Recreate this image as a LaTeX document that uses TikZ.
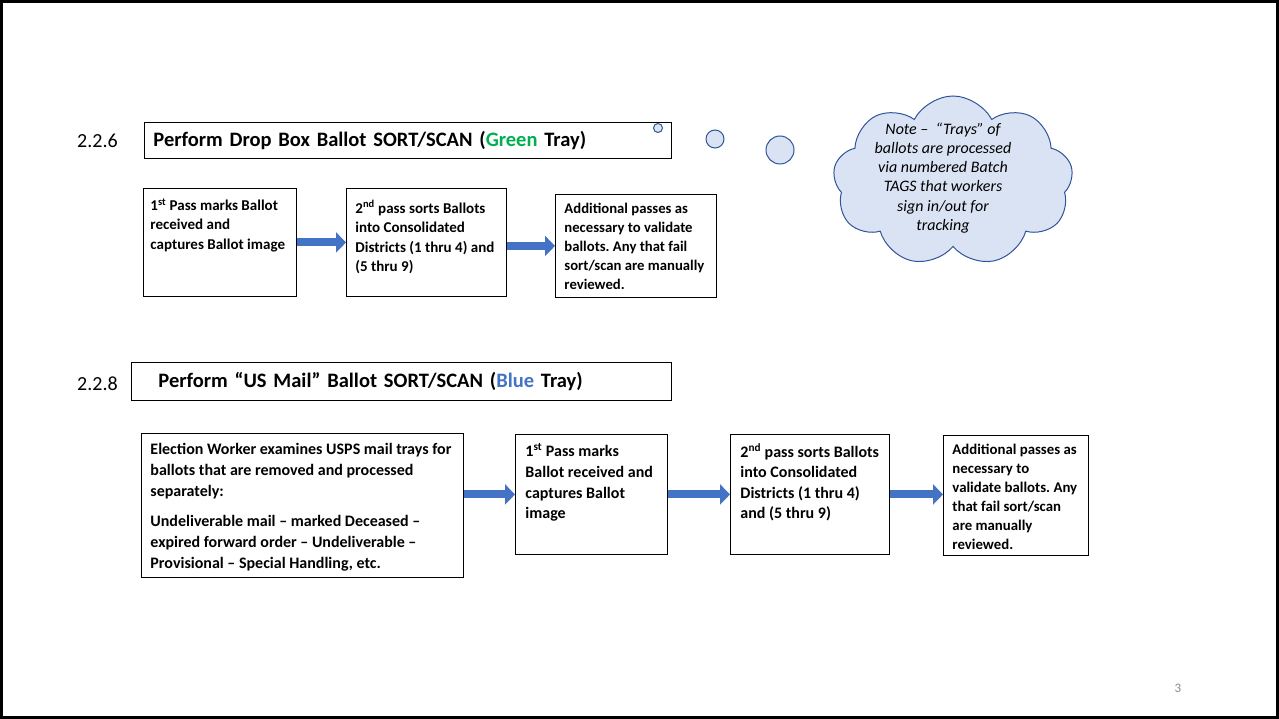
\documentclass[tikz,border=0pt]{standalone}
\usepackage{fontspec}
\setmainfont{Carlito}
\usepackage{tikz}
\usetikzlibrary{shapes.symbols,arrows.meta}
\definecolor{trayblue}{HTML}{4472C4}
\definecolor{traygreen}{HTML}{00B050}
\definecolor{cloudfill}{HTML}{DAE3F3}
\definecolor{cloudline}{HTML}{2F5597}
\definecolor{pagegray}{HTML}{898989}
\frenchspacing

\begin{document}
\begin{tikzpicture}[x=1pt,y=-1pt,
    stepbox/.style={draw, line width=0.9pt, anchor=north west, inner xsep=0pt, font=\bfseries\fontsize{15}{19.5}\selectfont},
    titlebox/.style={draw, line width=0.9pt, anchor=north west, align=left, font=\bfseries\fontsize{20.5}{24}\selectfont},
    secnum/.style={anchor=west, inner sep=0pt, font=\fontsize{20}{24}\selectfont},
    bubble/.style={circle, draw=cloudline, fill=cloudfill, line width=1pt, inner sep=0pt},
    flow/.style={line width=8pt, trayblue, -{Triangle[length=10pt,width=20pt]}}]
    \useasboundingbox (0,0) rectangle (1279,719);
    \draw[line width=3pt] (1.5,1.5) rectangle (1277.5,717.5);

    \node[secnum] (num226) at (77,141) {2.2.6};
    \node[titlebox, minimum width=527pt, minimum height=36pt, text width=509pt, inner xsep=9pt] (dropbox) at (144,122) {Perform Drop Box Ballot SORT/SCAN (\textcolor{traygreen}{Green} Tray)};
    \node[stepbox, inner ysep=10pt] (pass1) at (143,188) {\parbox[t][88pt][t]{153pt}{\raggedright\leftskip=7pt 1\textsuperscript{st} Pass marks Ballot\\ received and\\ captures Ballot image}};
    \node[stepbox, inner ysep=12pt] (pass2) at (346,188) {\parbox[t][84pt][t]{160pt}{\raggedright\leftskip=9pt 2\textsuperscript{nd} pass sorts Ballots\\ into Consolidated\\ Districts (1 thru 4) and\\ (5 thru 9)}};
    \node[stepbox, inner ysep=9pt, font=\bfseries\fontsize{14.7}{19}\selectfont] (more) at (555,194) {\parbox[t][85pt][t]{161pt}{\raggedright\leftskip=9pt Additional passes as\\ necessary to validate\\ ballots. Any that fail\\ sort/scan are manually\\ reviewed.}};
    \draw[flow] (pass1.east) -- (pass1.east -| pass2.west);
    \draw[flow] (pass2.east |- more.west) -- (more.west);

    \node[bubble, minimum size=9pt] (puff1) at (658,128) {};
    \node[bubble, minimum size=18pt] (puff2) at (715,139) {};
    \node[bubble, minimum size=28pt] (puff3) at (780,150) {};
    \node[cloud, cloud puffs=9, cloud puff arc=125, aspect=1.4, draw=cloudline, fill=cloudfill, line width=1pt, minimum width=240pt, minimum height=170pt, inner sep=0pt] (note) at (953,181) {};
    \node[align=center, font=\itshape\fontsize{16}{19.2}\selectfont] (notetext) at (943,178) {Note –\ \ “Trays” of\\ ballots are processed\\ via numbered Batch\\ TAGS that workers\\ sign in/out for\\ tracking};

    \node[secnum] (num228) at (77,384) {2.2.8};
    \node[titlebox, minimum width=540pt, minimum height=38pt, text width=486pt, inner xsep=27pt] (usmail) at (131,362) {Perform “US Mail” Ballot SORT/SCAN (\textcolor{trayblue}{Blue} Tray)};
    \node[stepbox, inner ysep=10pt, font=\bfseries\fontsize{16}{20.7}\selectfont] (examine) at (141,433) {\parbox[t][124pt][t]{322pt}{\raggedright\leftskip=9pt Election Worker examines USPS mail trays for\\ ballots that are removed and processed\\ separately:\\[10pt] Undeliverable mail – marked Deceased –\\ expired forward order – Undeliverable –\\ Provisional – Special Handling, etc.}};
    \node[stepbox, inner ysep=9pt, font=\bfseries\fontsize{16}{20.7}\selectfont] (mpass1) at (515,434) {\parbox[t][102pt][t]{152pt}{\raggedright\leftskip=10pt 1\textsuperscript{st} Pass marks\\ Ballot received and\\ captures Ballot\\ image}};
    \node[stepbox, inner ysep=9pt, font=\bfseries\fontsize{16}{20.3}\selectfont] (mpass2) at (730,434) {\parbox[t][102pt][t]{159pt}{\raggedright\leftskip=10pt 2\textsuperscript{nd} pass sorts Ballots\\ into Consolidated\\ Districts (1 thru 4)\\ and (5 thru 9)}};
    \node[stepbox, inner ysep=9pt, font=\bfseries\fontsize{14.8}{19}\selectfont] (mmore) at (943,435) {\parbox[t][102pt][t]{145pt}{\raggedright\leftskip=9pt Additional passes as\\ necessary to\\ validate ballots. Any\\ that fail sort/scan\\ are manually\\ reviewed.}};
    \draw[flow] (examine.east |- mpass1.west) -- (mpass1.west);
    \draw[flow] (mpass1.east) -- (mpass1.east -| mpass2.west);
    \draw[flow] (mpass2.east) -- (mpass2.east -| mmore.west);

    \node[font=\fontsize{13}{15}\selectfont, text=pagegray] (pageno) at (1178,688) {3};
\end{tikzpicture}
\end{document}
